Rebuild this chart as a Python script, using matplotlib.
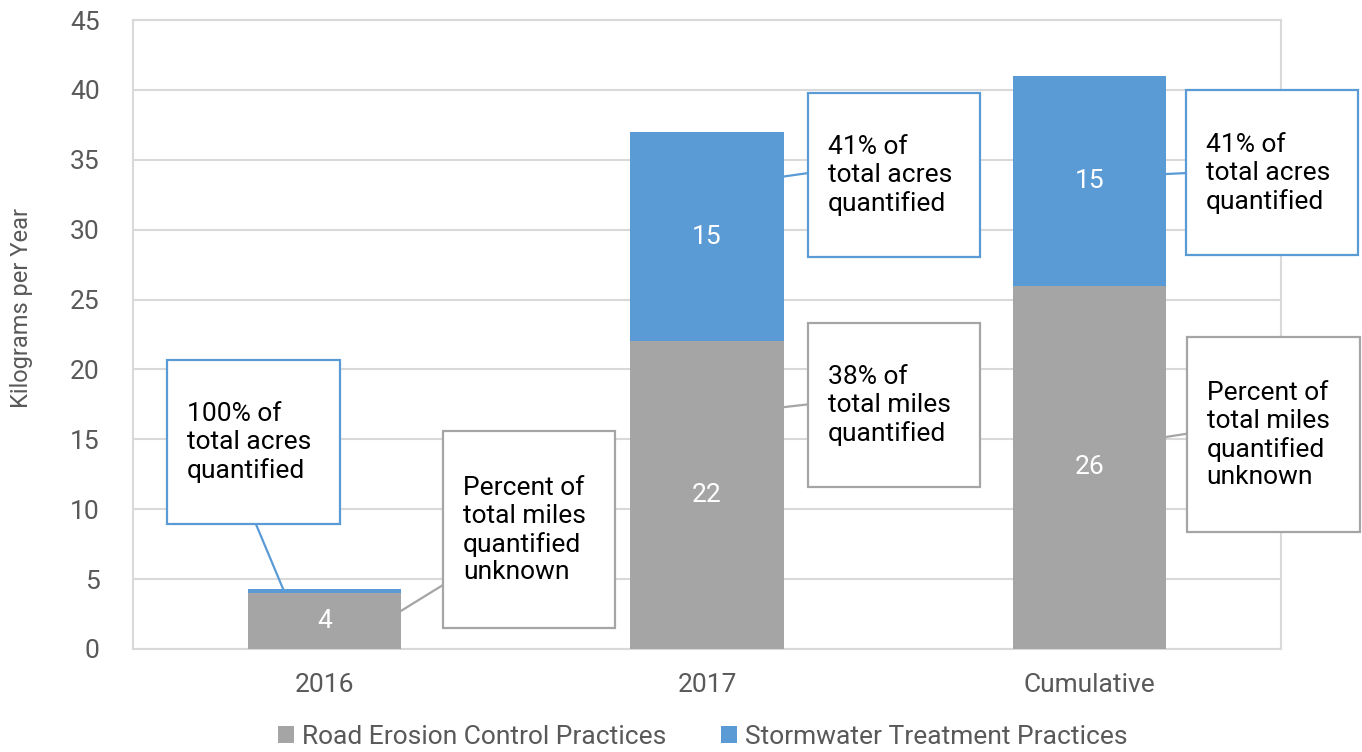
import matplotlib.pyplot as plt
from matplotlib.patches import Rectangle

plt.rcParams["font.family"] = ["Roboto", "DejaVu Sans"]

categories = ["2016", "2017", "Cumulative"]
road = [4, 22, 26]
storm = [0.3, 15, 15]
road_labels = ["4", "22", "26"]
storm_labels = [None, "15", "15"]
series_names = ["Road Erosion Control Practices", "Stormwater Treatment Practices"]

callout_texts = [
    "100% of\ntotal acres\nquantified",
    "Percent of\ntotal miles\nquantified\nunknown",
    "41% of\ntotal acres\nquantified",
    "38% of\ntotal miles\nquantified",
    "41% of\ntotal acres\nquantified",
    "Percent of\ntotal miles\nquantified\nunknown",
]

GREY = "#A5A5A5"
BLUE = "#5B9BD5"
GRID = "#D9D9D9"
TXT = "#595959"

fig = plt.figure(figsize=(13.62, 7.52), dpi=100)
ax = fig.add_axes([0.0977, 0.137, 0.8428, 0.8364])

x = range(len(categories))
width = 0.40
b1 = ax.bar(x, road, width, color=GREY, label=series_names[0], zorder=3)
b2 = ax.bar(x, storm, width, bottom=road, color=BLUE, label=series_names[1], zorder=3)

for rect, lab in zip(b1, road_labels):
    ax.text(rect.get_x() + rect.get_width() / 2, rect.get_y() + rect.get_height() / 2,
            lab, ha="center", va="center", color="white", fontsize=19, zorder=4)
for rect, lab in zip(b2, storm_labels):
    if lab:
        ax.text(rect.get_x() + rect.get_width() / 2, rect.get_y() + rect.get_height() / 2,
                lab, ha="center", va="center", color="white", fontsize=19, zorder=4)

ax.set_xlim(-0.5, 2.5)
ax.set_ylim(0, 45)
ax.set_yticks(range(0, 46, 5))
ax.set_xticks(list(x))
ax.set_xticklabels(categories)
ax.yaxis.grid(True, color=GRID, lw=1.5, zorder=0)
for s in ax.spines.values():
    s.set_color(GRID)
    s.set_linewidth(1.5)
ax.tick_params(length=0, labelsize=19, colors=TXT)
ax.tick_params(axis="y", pad=24)
ax.tick_params(axis="x", pad=17)
ax.set_ylabel("Kilograms per Year", fontsize=17, color=TXT)
ax.yaxis.set_label_coords(-0.087, 0.542)

# callout boxes: (x0, y0, width, height) in data units, edge colour
boxes = [
    (-0.411, 8.94, 0.452, 11.73, BLUE),
    (0.310, 1.50, 0.450, 14.10, GREY),
    (1.264, 28.04, 0.449, 11.74, BLUE),
    (1.264, 11.59, 0.449, 11.73, GREY),
    (2.252, 28.19, 0.449, 11.80, BLUE),
    (2.254, 8.37, 0.452, 13.95, GREY),
]
# leader lines: bar point -> box point
leaders = [
    ((-0.108, 4.30), (-0.179, 8.94)),
    ((0.200, 2.72), (0.310, 4.58)),
    ((1.200, 33.80), (1.264, 34.05)),
    ((1.200, 17.30), (1.264, 17.50)),
    ((2.200, 33.98), (2.252, 34.05)),
    ((2.200, 15.17), (2.254, 15.40)),
]

for (x0, y0, w, h, ec), txt, (p0, p1) in zip(boxes, callout_texts, leaders):
    ax.add_patch(Rectangle((x0, y0), w, h, facecolor="white", edgecolor=ec,
                           lw=1.6, zorder=5, clip_on=False))
    ax.text(x0 + 0.052, y0 + h / 2 - 0.05, txt, ha="left", va="center",
            fontsize=19, color="black", linespacing=1.2, zorder=6, clip_on=False)
    ax.plot([p0[0], p1[0]], [p0[1], p1[1]], color=ec, lw=1.6, zorder=4, clip_on=False)

fig.legend(loc="center", bbox_to_anchor=(0.516, 0.02), ncol=2, frameon=False,
           fontsize=19, handlelength=0.6, handleheight=0.6, handletextpad=0.3,
           columnspacing=2.1, labelcolor=TXT, borderpad=0)

fig.savefig("out.png", dpi=100)
